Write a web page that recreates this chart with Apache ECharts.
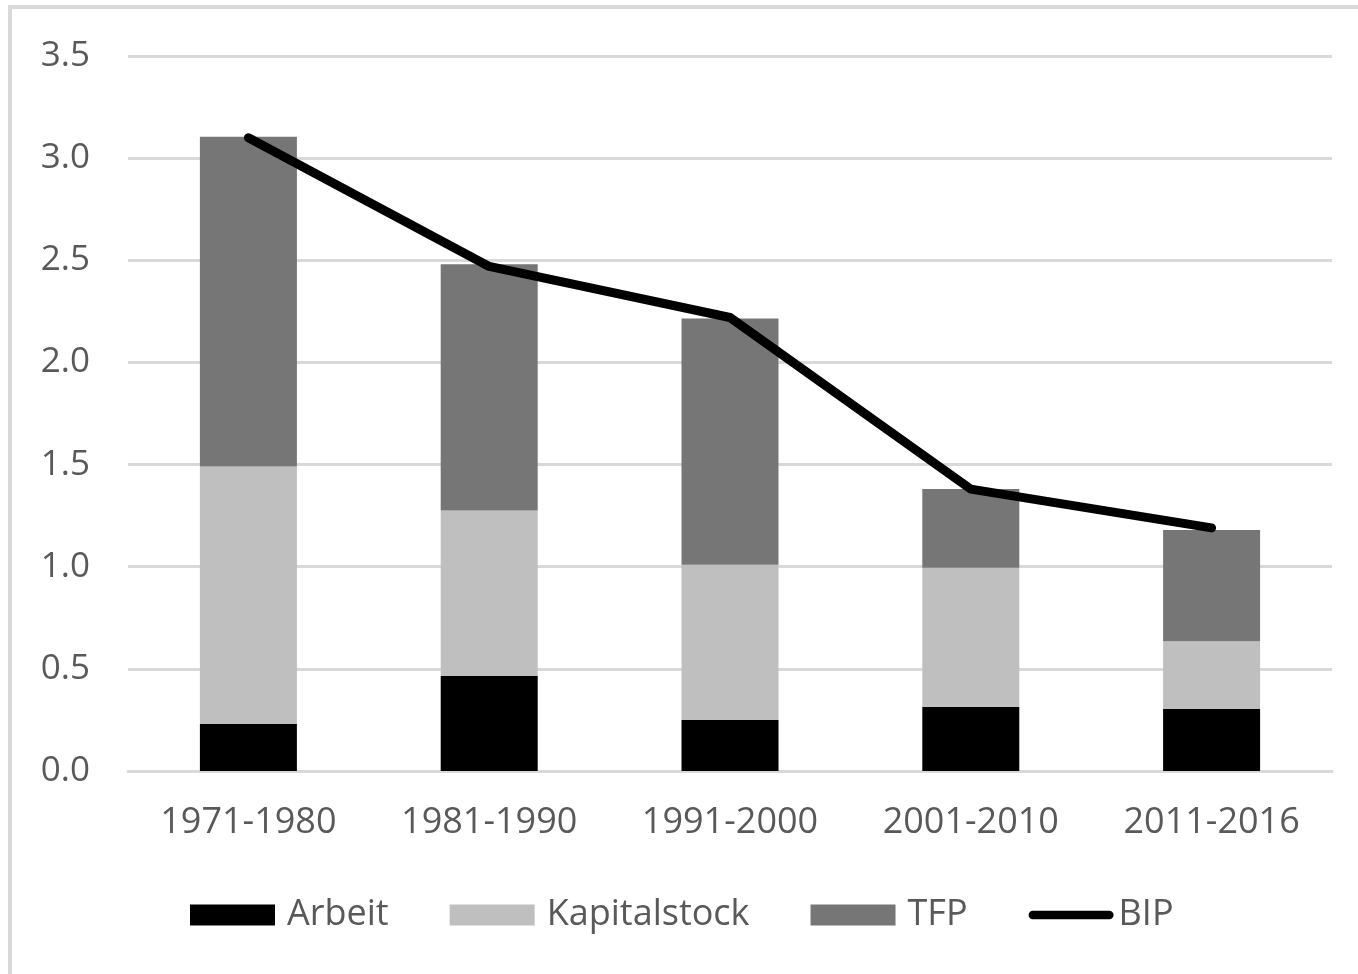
<!DOCTYPE html>
<html>
<head>
<meta charset="utf-8">
<script src="https://cdn.jsdelivr.net/npm/echarts@6/dist/echarts.min.js"></script>
<style>
  html, body { margin: 0; padding: 0; background: #fff; }
  #frame { position: absolute; left: 8px; top: 5px; width: 1350px; height: 969px;
           border-left: 4px solid #d9d9d9; border-top: 4px solid #d9d9d9; box-sizing: border-box; }
  #main { position: absolute; left: 0; top: 0; width: 1358px; height: 974px; }
</style>
</head>
<body>
<div id="frame"></div>
<div id="main"></div>
<script>
const periods = ['1971-1980', '1981-1990', '1991-2000', '2001-2010', '2011-2016'];
const arbeit = [0.23, 0.465, 0.25, 0.315, 0.305];
const kapitalstock = [1.26, 0.81, 0.76, 0.68, 0.33];
const tfp = [1.615, 1.205, 1.205, 0.385, 0.545];
const bip = [3.1, 2.47, 2.22, 1.38, 1.19];

const textColor = '#595959';
const font = 'Open Sans';

const chart = echarts.init(document.getElementById('main'));
chart.setOption({
  animation: false,
  grid: { left: 128, right: 26, top: 56, bottom: 203 },
  legend: {
    left: 190,
    top: 896,
    padding: 0,
    itemWidth: 85,
    itemHeight: 21,
    itemGap: 61,
    textStyle: { color: textColor, fontFamily: font, fontSize: 36, lineHeight: 38, padding: [0, 0, 0, 7] },
    data: [
      { name: 'Arbeit', icon: 'rect' },
      { name: 'Kapitalstock', icon: 'rect' },
      { name: 'TFP', icon: 'rect' },
      { name: 'BIP', icon: 'path://M5,0 L95,0 A5,5 0 0 1 95,10 L5,10 A5,5 0 0 1 5,0 Z',
        textStyle: { padding: [0, 0, 0, 0] } }
    ]
  },
  xAxis: {
    type: 'category',
    data: periods,
    axisLine: { lineStyle: { color: '#d9d9d9', width: 3 } },
    axisTick: { show: false },
    axisLabel: { color: textColor, fontFamily: font, fontSize: 36, margin: 34 }
  },
  yAxis: {
    type: 'value',
    min: 0,
    max: 3.5,
    interval: 0.5,
    axisLine: { show: false },
    axisTick: { show: false },
    splitLine: { lineStyle: { color: '#d9d9d9', width: 3 } },
    axisLabel: { color: textColor, fontFamily: font, fontSize: 35, margin: 38,
                 formatter: v => v.toFixed(1) }
  },
  series: [
    { name: 'Arbeit', type: 'bar', stack: 'g', barWidth: 97, data: arbeit,
      itemStyle: { color: '#000000' } },
    { name: 'Kapitalstock', type: 'bar', stack: 'g', data: kapitalstock,
      itemStyle: { color: '#bfbfbf' } },
    { name: 'TFP', type: 'bar', stack: 'g', data: tfp,
      itemStyle: { color: '#767676' } },
    { name: 'BIP', type: 'line', data: bip, symbol: 'none', z: 5,
      lineStyle: { color: '#000000', width: 9, cap: 'round', join: 'round' },
      itemStyle: { color: '#000000' } }
  ]
});
</script>
</body>
</html>
